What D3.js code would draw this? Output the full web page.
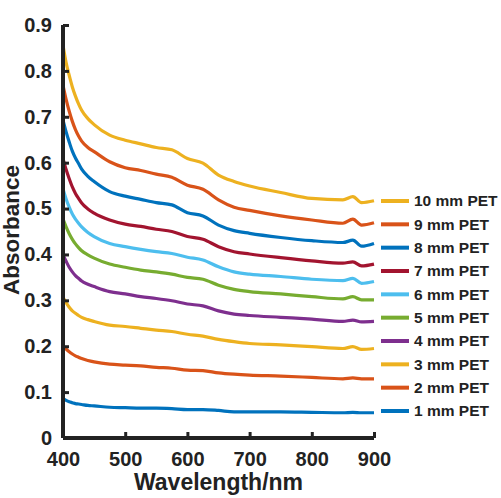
<!DOCTYPE html>
<html><head><meta charset="utf-8">
<script src="https://cdn.jsdelivr.net/npm/d3@7"></script>
<style>body{margin:0;background:#fff}svg{display:block}</style>
</head><body>
<svg id="c" width="501" height="498"></svg>
<script>
const wavelengths = [400,405,410,415,420,425,430,440,450,475,500,525,550,575,600,625,650,675,700,750,800,850,866,880,900];
const seriesNames = ["1 mm PET","2 mm PET","3 mm PET","4 mm PET","5 mm PET","6 mm PET","7 mm PET","8 mm PET","9 mm PET","10 mm PET"];
const pet1  = [0.086,0.082,0.079,0.077,0.075,0.074,0.073,0.071,0.070,0.067,0.066,0.065,0.065,0.064,0.062,0.062,0.060,0.057,0.057,0.057,0.056,0.055,0.056,0.055,0.055];
const pet2  = [0.201,0.194,0.188,0.183,0.179,0.176,0.173,0.169,0.166,0.161,0.159,0.157,0.154,0.152,0.148,0.147,0.142,0.139,0.137,0.135,0.132,0.129,0.131,0.129,0.129];
const pet3  = [0.307,0.295,0.285,0.277,0.272,0.267,0.263,0.258,0.254,0.246,0.243,0.239,0.235,0.232,0.226,0.222,0.215,0.210,0.206,0.203,0.199,0.195,0.199,0.193,0.195];
const pet4  = [0.399,0.385,0.372,0.362,0.354,0.348,0.342,0.335,0.330,0.319,0.314,0.308,0.304,0.299,0.292,0.288,0.277,0.270,0.267,0.263,0.259,0.254,0.257,0.253,0.254];
const pet5  = [0.477,0.460,0.445,0.433,0.423,0.415,0.408,0.399,0.392,0.379,0.372,0.366,0.362,0.357,0.350,0.346,0.333,0.324,0.319,0.314,0.308,0.303,0.308,0.301,0.301];
const pet6  = [0.543,0.521,0.503,0.488,0.477,0.468,0.460,0.448,0.439,0.424,0.417,0.411,0.406,0.402,0.394,0.388,0.373,0.362,0.357,0.352,0.346,0.343,0.348,0.337,0.341];
const pet7  = [0.609,0.585,0.565,0.547,0.533,0.522,0.512,0.499,0.490,0.475,0.466,0.461,0.455,0.450,0.439,0.433,0.417,0.406,0.401,0.393,0.386,0.381,0.384,0.375,0.379];
const pet8  = [0.693,0.667,0.645,0.625,0.610,0.598,0.586,0.570,0.559,0.537,0.527,0.520,0.513,0.508,0.491,0.484,0.464,0.452,0.446,0.437,0.430,0.426,0.431,0.418,0.424];
const pet9  = [0.769,0.738,0.712,0.690,0.672,0.658,0.647,0.633,0.624,0.602,0.589,0.583,0.575,0.568,0.551,0.542,0.519,0.503,0.496,0.484,0.475,0.468,0.477,0.464,0.469];
const pet10 = [0.856,0.818,0.790,0.765,0.745,0.728,0.714,0.696,0.683,0.660,0.649,0.641,0.633,0.628,0.609,0.599,0.573,0.559,0.549,0.535,0.522,0.519,0.526,0.513,0.517];
const seriesValues = [pet1,pet2,pet3,pet4,pet5,pet6,pet7,pet8,pet9,pet10];
const colors = ["#0072BD","#D95319","#EDB120","#7E2F8E","#77AC30","#4DBEEE","#A2142F","#0072BD","#D95319","#EDB120"];
const xTicks = [400,500,600,700,800,900];
const yTicks = [0,0.1,0.2,0.3,0.4,0.5,0.6,0.7,0.8,0.9];

const svg = d3.select("#c");
const x = d3.scaleLinear().domain([400,900]).range([63,374]);
const y = d3.scaleLinear().domain([0,0.9]).range([438,25]);
const ink = "#222";
const font = "'Liberation Sans', Arial, sans-serif";

// curves
const line = d3.line().x((d,i)=>x(wavelengths[i])).y(d=>y(d)).curve(d3.curveMonotoneX);
seriesValues.forEach((vals,k)=>{
  svg.append("path").attr("d", line(vals)).attr("fill","none")
    .attr("stroke", colors[k]).attr("stroke-width", 3.2).attr("stroke-linejoin","round");
});

// axes
const xAxis = d3.axisBottom(x).tickValues(xTicks).tickSize(-6).tickPadding(14).tickFormat(d3.format("d"));
const yAxis = d3.axisLeft(y).tickValues(yTicks).tickSize(-6).tickPadding(11).tickFormat(d=> d===0 ? "0" : d3.format(".1f")(d));
const gx = svg.append("g").attr("transform","translate(0,438)").call(xAxis);
const gy = svg.append("g").attr("transform","translate(63,0)").call(yAxis);
[gx,gy].forEach(g=>{
  g.select(".domain").attr("stroke",ink).attr("stroke-width",4).attr("fill","none");
  g.selectAll(".tick line").attr("stroke",ink).attr("stroke-width",3);
  g.selectAll(".tick text").attr("fill",ink).style("font-family",font)
   .style("font-size","20px").style("font-weight","bold");
});
gx.select(".domain").attr("d","M63,0H374");
gy.select(".domain").attr("d","M0,438V25");

// axis titles
svg.append("text").attr("x",218.5).attr("y",490).attr("text-anchor","middle")
  .attr("fill",ink).style("font-family",font).style("font-size","23px").style("font-weight","bold")
  .text("Wavelength/nm");
svg.append("text").attr("transform","translate(18.5,230) rotate(-90)").attr("text-anchor","middle")
  .attr("fill",ink).style("font-family",font).style("font-size","22.5px").style("font-weight","bold")
  .text("Absorbance");

// legend
const legendOrder = d3.range(seriesNames.length).reverse();
const ly = d3.scalePoint().domain(legendOrder).range([201,411]);
legendOrder.forEach(k=>{
  const yy = ly(k);
  svg.append("line").attr("x1",381).attr("x2",409).attr("y1",yy).attr("y2",yy)
    .attr("stroke",colors[k]).attr("stroke-width",4);
  svg.append("text").attr("x",414).attr("y",yy).attr("dy","0.35em")
    .attr("fill",ink).style("font-family",font).style("font-size","15.5px").style("font-weight","bold")
    .text(seriesNames[k]);
});
</script>
</body></html>
